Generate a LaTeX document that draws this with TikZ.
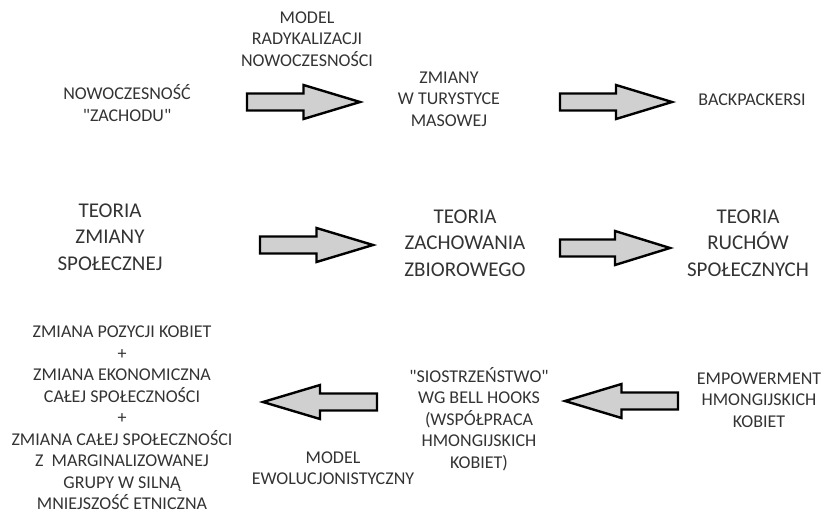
\documentclass[tikz,border=0pt]{standalone}
\usepackage{fontspec}
\setmainfont{Carlito}[Ligatures=TeXOff]
\usetikzlibrary{calc}
\definecolor{txtgray}{HTML}{333333}
\definecolor{arrgray}{HTML}{D0D0D0}
\begin{document}
\begin{tikzpicture}[x=1pt,y=-1pt]

                \tikzset{lab/.style = {align=center, text=txtgray, inner sep=0pt, font=\fontsize{18}{21.5}\selectfont}}
                \tikzset{big/.style = {lab, font=\fontsize{21}{26.5}\selectfont}}
                \tikzset{blockarrow/.style = {draw=black, fill=arrgray, line width=2.4pt, line join=miter,
                    to path={let \p1=(\tikztostart), \p2=(\tikztotarget), \n1={(\x2-\x1)/2} in
                    (\x1,\y1+8.5pt) -- (\x1+\n1,\y1+8.5pt) -- (\x1+\n1,\y1+17pt) -- (\x2,\y2)
                    -- (\x1+\n1,\y1-17pt) -- (\x1+\n1,\y1-8.5pt) -- (\x1,\y1-8.5pt) -- cycle}}}
                \useasboundingbox (0,0) rectangle (829,514);

                \node[lab] (nowo) at (127, 103) {NOWOCZESNOŚĆ\\"ZACHODU"};
                \node[lab] (radyk) at (307, 39) {MODEL\\RADYKALIZACJI\\NOWOCZESNOŚCI};
                \node[lab] (turyst) at (449, 99) {ZMIANY\\W TURYSTYCE\\MASOWEJ};
                \node[lab] (back) at (752, 100) {BACKPACKERSI};

                \node[big] (zmiany) at (110, 237) {TEORIA\\ZMIANY\\SPOŁECZNEJ};
                \node[big] (zachow) at (465, 243) {TEORIA\\ZACHOWANIA\\ZBIOROWEGO};
                \node[big] (ruchow) at (748, 243) {TEORIA\\RUCHÓW\\SPOŁECZNYCH};

                \node[lab] (wynik) at (122, 418) {ZMIANA POZYCJI KOBIET\\+\\ZMIANA EKONOMICZNA\\CAŁEJ SPOŁECZNOŚCI\\+\\ZMIANA CAŁEJ SPOŁECZNOŚCI\\Z\ \ MARGINALIZOWANEJ\\GRUPY W SILNĄ\\MNIEJSZOŚĆ ETNICZNA};
                \node[lab] (ewol) at (333, 468) {MODEL\\EWOLUCJONISTYCZNY};
                \node[lab] (siostr) at (479, 419) {"SIOSTRZEŃSTWO"\\WG BELL HOOKS\\(WSPÓŁPRACA\\HMONGIJSKICH\\KOBIET)};
                \node[lab] (empow) at (759, 400) {EMPOWERMENT\\HMONGIJSKICH\\KOBIET};

                \coordinate (a1s) at (247, 102);
                \coordinate (a1e) at (360, 102);
                \coordinate (a2s) at (560, 102);
                \coordinate (a2e) at (672, 102);
                \coordinate (a3s) at (260, 245);
                \coordinate (a3e) at (373, 245);
                \coordinate (a4s) at (560, 248);
                \coordinate (a4e) at (670, 248);
                \coordinate (a5s) at (377, 402);
                \coordinate (a5e) at (263, 402);
                \coordinate (a6s) at (678, 401);
                \coordinate (a6e) at (565, 401);

                \draw[blockarrow] (a1s) to (a1e);
                \draw[blockarrow] (a2s) to (a2e);
                \draw[blockarrow] (a3s) to (a3e);
                \draw[blockarrow] (a4s) to (a4e);
                \draw[blockarrow] (a5s) to (a5e);
                \draw[blockarrow] (a6s) to (a6e);
            \end{tikzpicture}
\end{document}
